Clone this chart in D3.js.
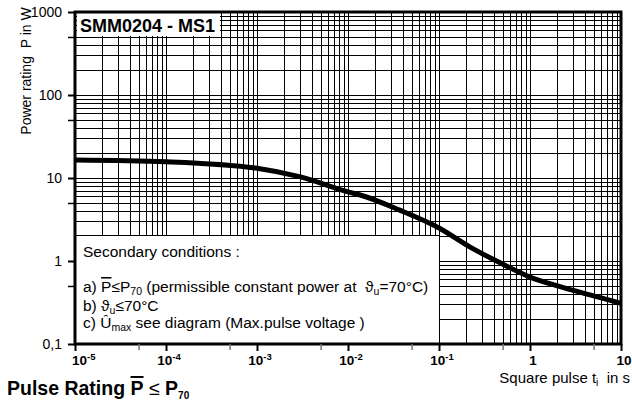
<!DOCTYPE html>
<html><head><meta charset="utf-8">
<script src="https://cdn.jsdelivr.net/npm/d3@7"></script>
<style>
body{margin:0;background:#fff;}
svg{display:block;font-family:"Liberation Sans",Arial,sans-serif;}
svg text{white-space:pre;}
</style></head>
<body><svg id="c" width="632" height="410"></svg>
<script>
// ---- data ----
const pulseTimes = [1e-5, 1e-4, 1e-3, 3e-3, 1e-2, 1.36e-2, 3.7e-2, 1e-1, 0.22, 0.47, 1, 2.14, 4.56, 10];
const powerValues = [16.5, 15.7, 13.1, 10.3, 6.8, 6.24, 4.1, 2.5, 1.47, 0.95, 0.64, 0.49, 0.39, 0.31];
const xTickValues = [1e-5, 1e-4, 1e-3, 1e-2, 1e-1, 1, 10];
const xTickBases = ["10", "10", "10", "10", "10", "1", "10"];
const xTickExps = ["-5", "-4", "-3", "-2", "-1", "", ""];
const yTickValues = [1000, 100, 10, 1, 0.1];
const yTickLabels = ["1000", "100", "10", "1", "0,1"];

const svg = d3.select("#c");
const L = 75, R = 621, T = 12, B = 344;
const x = d3.scaleLog().domain([1e-5, 10]).range([L, R]);
const y = d3.scaleLog().domain([0.1, 1000]).range([B, T]);

function minorVals(lo, hi) {
  const v = [];
  for (let e = Math.round(Math.log10(lo)); e < Math.round(Math.log10(hi)); e++)
    for (let k = 1; k <= 9; k++) v.push(k * Math.pow(10, e));
  v.push(hi);
  return v;
}
const xGrid = minorVals(1e-5, 10), yGrid = minorVals(0.1, 1000);
const isFive = v => Math.abs(v / Math.pow(10, Math.floor(Math.log10(v) + 1e-9)) - 5) < 1e-6;
const x5 = xGrid.filter(isFive), y5 = yGrid.filter(isFive);

// grid
const g = svg.append("g");
g.selectAll("line.v").data(xGrid).enter().append("line")
  .attr("x1", d => Math.round(x(d)) + 0.5).attr("x2", d => Math.round(x(d)) + 0.5)
  .attr("y1", T).attr("y2", B).attr("stroke", "#000").attr("stroke-width", 1);
g.selectAll("line.h").data(yGrid).enter().append("line")
  .attr("y1", d => Math.round(y(d)) + 0.5).attr("y2", d => Math.round(y(d)) + 0.5)
  .attr("x1", L).attr("x2", R).attr("stroke", "#000").attr("stroke-width", 1);

// curve
svg.append("path")
  .datum(pulseTimes.map((t, i) => [t, powerValues[i]]))
  .attr("d", d3.line().x(d => x(d[0])).y(d => y(d[1])).curve(d3.curveMonotoneX))
  .attr("fill", "none").attr("stroke", "#000").attr("stroke-width", 5);

// legend box
const lbTop = 235.5, lbRight = Math.round(x(0.1)) + 0.5;
svg.append("rect").attr("x", L).attr("y", lbTop).attr("width", lbRight - L).attr("height", B - lbTop)
  .attr("fill", "#fff").attr("stroke", "#000").attr("stroke-width", 1);
const lg = svg.append("g").attr("font-size", 15.5).attr("fill", "#000");
lg.append("text").attr("x", 83).attr("y", 257).text("Secondary conditions :");
const ta = lg.append("text").attr("x", 83).attr("y", 292);
ta.append("tspan").text("a) ");
ta.append("tspan").attr("text-decoration", "overline").text("P");
ta.append("tspan").text("≤P");
ta.append("tspan").attr("font-size", 10.5).attr("dy", 2.5).text("70");
ta.append("tspan").attr("dy", -2.5).text(" (permissible constant power at  ϑ");
ta.append("tspan").attr("font-size", 10.5).attr("dy", 2.5).text("u");
ta.append("tspan").attr("dy", -2.5).text("=70°C)");
const tb = lg.append("text").attr("x", 83).attr("y", 311);
tb.append("tspan").text("b) ϑ");
tb.append("tspan").attr("font-size", 10.5).attr("dy", 2.5).text("u");
tb.append("tspan").attr("dy", -2.5).text("≤70°C");
const tc = lg.append("text").attr("x", 83).attr("y", 328);
tc.append("tspan").text("c) Û");
tc.append("tspan").attr("font-size", 10.5).attr("dy", 2.5).text("max");
tc.append("tspan").attr("dy", -2.5).text(" see diagram (Max.pulse voltage )");

// title box
svg.append("rect").attr("x", 77).attr("y", 13).attr("width", 143).attr("height", 23).attr("fill", "#fff");
svg.append("text").attr("x", 80).attr("y", 32).attr("font-size", 18).attr("font-weight", "bold")
  .text("SMM0204 - MS1");

// frame
svg.append("rect").attr("x", L).attr("y", T).attr("width", R - L).attr("height", B - T)
  .attr("fill", "none").attr("stroke", "#000").attr("stroke-width", 3);

// axes
const yAxis = svg.append("g").attr("transform", `translate(${L},0)`)
  .call(d3.axisLeft(y).tickValues(yTickValues).tickSize(7).tickPadding(6)
    .tickFormat((d, i) => yTickLabels[i]));
yAxis.select(".domain").remove();
yAxis.selectAll("line").attr("stroke-width", 2);
yAxis.selectAll("text").attr("font-size", 14).attr("font-family", "'Liberation Sans',Arial,sans-serif");
const yAxis5 = svg.append("g").attr("transform", `translate(${L},0)`)
  .call(d3.axisLeft(y).tickValues(y5).tickSize(7).tickFormat(""));
yAxis5.select(".domain").remove();
yAxis5.selectAll("text").remove();
yAxis5.selectAll("line").attr("stroke-width", 1.5);

const xAxis = svg.append("g").attr("transform", `translate(0,${B})`)
  .call(d3.axisBottom(x).tickValues(xTickValues).tickSize(7).tickFormat(""));
xAxis.select(".domain").remove();
xAxis.selectAll("text").remove();
xAxis.selectAll("line").attr("stroke-width", 2);
const xAxis5 = svg.append("g").attr("transform", `translate(0,${B})`)
  .call(d3.axisBottom(x).tickValues(x5).tickSize(6).tickFormat(""));
xAxis5.select(".domain").remove();
xAxis5.selectAll("text").remove();
xAxis5.selectAll("line").attr("stroke", "#777").attr("stroke-width", 1.5);

const xl = svg.append("g").attr("font-size", 13.5).attr("font-weight", "bold");
xTickValues.forEach((v, i) => {
  const t = xl.append("text").attr("y", 365).attr("text-anchor", i === 0 ? "start" : "middle")
    .attr("x", i === 0 ? x(v) - 3 : x(v) + 3);
  t.append("tspan").text(xTickBases[i]);
  if (xTickExps[i]) t.append("tspan").attr("font-size", 9.5).attr("dy", -5).text(xTickExps[i]);
});

// axis titles
svg.append("text").attr("transform", "translate(31,71) rotate(-90)").attr("text-anchor", "middle")
  .attr("font-size", 14).text("Power rating  P in W");
const xt = svg.append("text").attr("x", 630).attr("y", 383).attr("text-anchor", "end").attr("font-size", 15);
xt.append("tspan").text("Square pulse t");
xt.append("tspan").attr("font-size", 10).attr("dy", 3).text("i");
xt.append("tspan").attr("dy", -3).text("  in s");

const bt = svg.append("text").attr("x", 7).attr("y", 395).attr("font-size", 19.5).attr("font-weight", "bold");
bt.append("tspan").text("Pulse Rating ");
bt.append("tspan").attr("text-decoration", "overline").text("P");
bt.append("tspan").attr("font-weight", "normal").text(" ≤ ");
bt.append("tspan").text("P");
bt.append("tspan").attr("font-size", 10).attr("dy", 4).text("70");
</script></body></html>
